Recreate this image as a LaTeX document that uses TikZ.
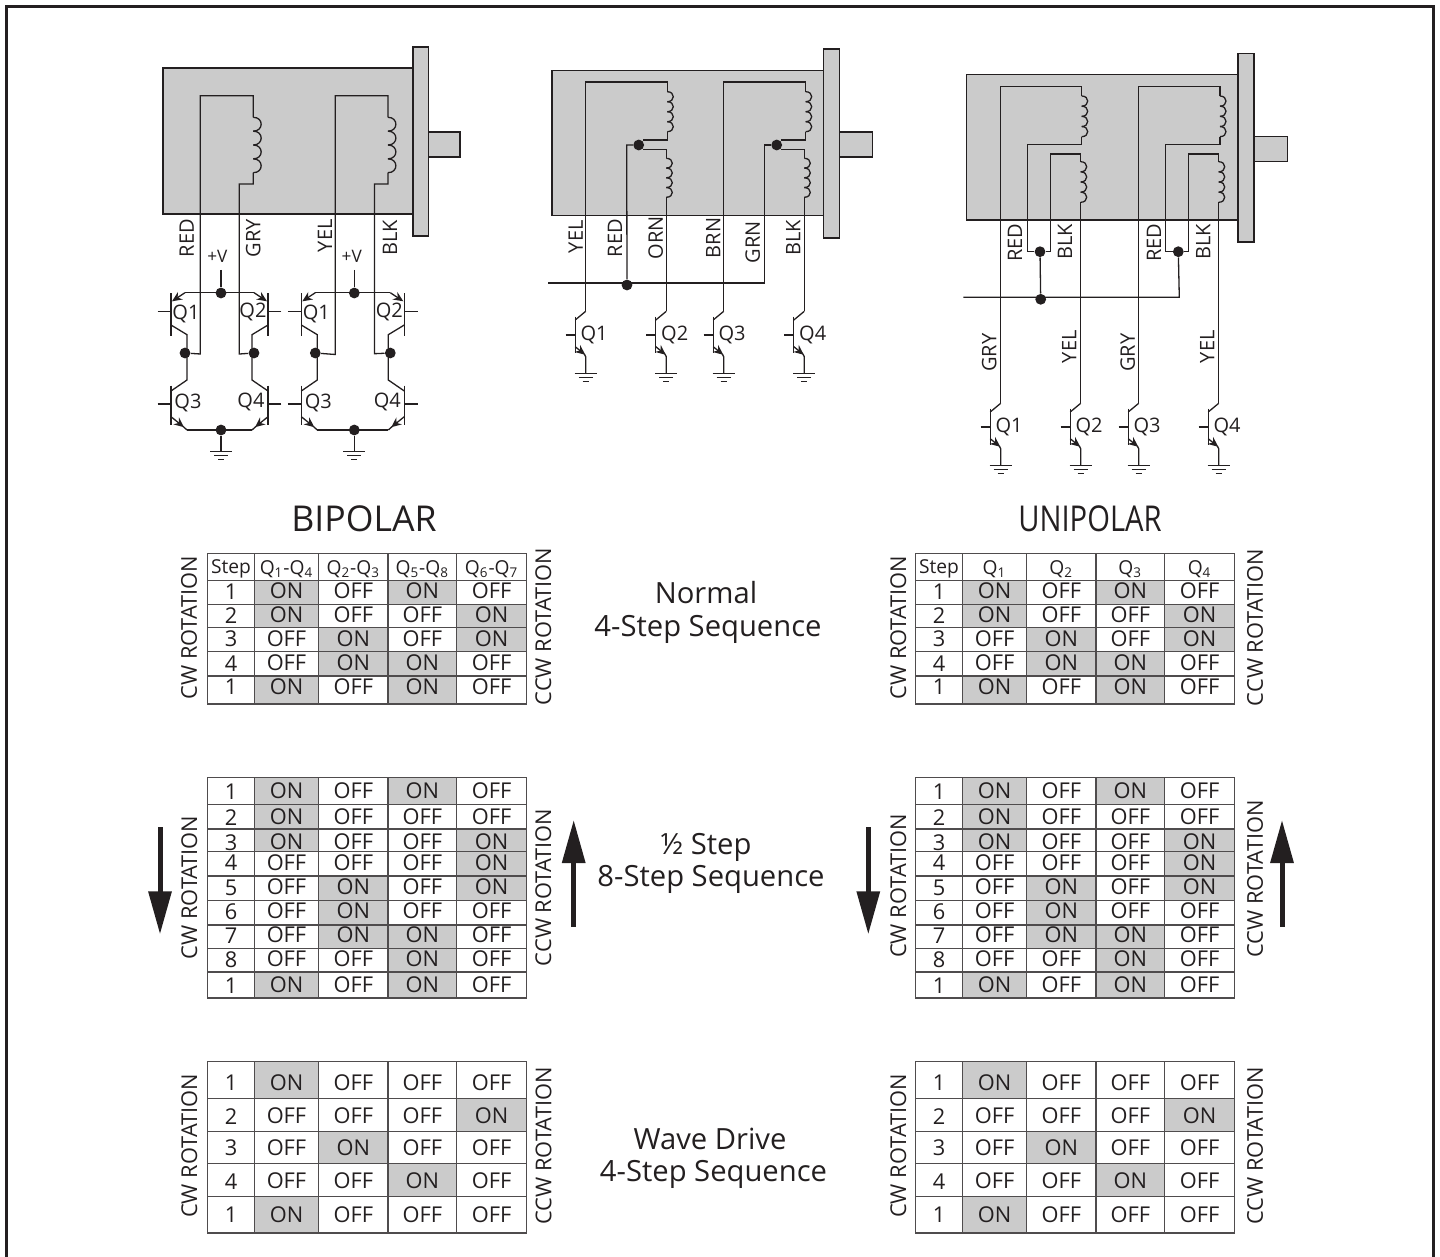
\documentclass[tikz,border=0pt]{standalone}
\usepackage{fontspec}
\setmainfont{Open Sans}
\usetikzlibrary{arrows.meta}
\definecolor{ink}{HTML}{231F20}
\definecolor{motorgray}{HTML}{CBCBCB}
\tikzset{
	wire/.style={draw=ink,line width=0.65pt},
	part/.style={draw=ink,fill=motorgray,line width=0.75pt},
	joint/.style={circle,fill=ink,inner sep=0pt,minimum size=5.4pt},
	tip/.style={-{Stealth[length=5pt,width=4.4pt]}},
	bigarrow/.style={draw=ink,line width=2.5pt,-{Triangle[length=21.5pt,width=11.2pt]}},
	lbl/.style={font=\fontsize{10}{12}\selectfont,text=ink,inner sep=0pt},
	vlbl/.style={lbl,rotate=90},
	plus/.style={font=\fontsize{8.6}{10}\selectfont,text=ink,inner sep=0pt},
	cell/.style={font=\fontsize{10.9}{13}\selectfont,text=ink,inner sep=0pt},
	head/.style={font=\fontsize{9.6}{11}\selectfont,text=ink,inner sep=0pt},
	rot/.style={font=\fontsize{10.9}{13}\selectfont,text=ink,inner sep=0pt,rotate=90},
	seq/.style={font=\fontsize{14.6}{17}\selectfont,text=ink,inner sep=0pt},
	title/.style={font=\fontsize{17.8}{20}\selectfont,text=ink,inner sep=0pt},
	gridline/.style={draw=ink!80,line width=0.6pt}
}
% winding: x, y from, y to, bulge
\newcommand{\coil}[4]{
	\pgfmathsetmacro\coilh{(#3-#2)/4}
	\foreach \k in {0,1,2,3} {
		\draw[wire] (#1,{#2+\k*\coilh}) .. controls ({#1+#4},{#2+\k*\coilh}) and ({#1+#4},{#2+(\k+1)*\coilh}) .. (#1,{#2+(\k+1)*\coilh});
	}
}
% ground symbol
\newcommand{\gnd}[2]{
	\draw[wire] ({#1-11},#2) -- ({#1+11},#2);
	\draw[wire] ({#1-7},{#2+4}) -- ({#1+7},{#2+4});
	\draw[wire] ({#1-3},{#2+8}) -- ({#1+3},{#2+8});
}
% one side of the H bridge, bar of Q1 or Q2 at x=0
\newcommand{\bridgeside}{
	\draw[wire,tip] (14,292.7) -- (1,301.3);
	\draw[wire] (0,293.3) -- (0,336);
	\draw[wire] (-13.4,311.7) -- (0,311.7);
	\draw[wire] (0,325) -- (16,334.7) -- (16,380) -- (0,391);
	\draw[wire] (0,385.7) -- (0,425);
	\draw[wire] (-13.4,404) -- (0,404);
	\draw[wire,tip] (0,416.7) -- (13,427.2);
	\draw[wire] (12,426.4) -- (16,430);
}
% H bridge: left bar, right bar, name
\newcommand{\hbridge}[3]{
	\begin{scope}[shift={(#1,0)}] \bridgeside \end{scope}
	\begin{scope}[shift={(#2,0)},xscale=-1] \bridgeside \end{scope}
	\draw[wire] ({#1+14},292.7) -- ({#2-14},292.7);
	\draw[wire] ({#1+16},430) -- ({#2-16},430);
	\node[joint] (#3top) at ({(#1+#2)/2+1.5},293) {};
	\node[joint] (#3bot) at ({(#1+#2)/2+1.5},430) {};
	\node[joint] (#3left) at ({#1+14},353) {};
	\node[joint] (#3right) at ({#2-14},353) {};
	\coordinate (#3vcc) at ({(#1+#2)/2+1.5},270);
	\coordinate (#3earth) at ({(#1+#2)/2+1.5},451.7);
	\draw[wire] (#3vcc) -- (#3top);
	\draw[wire] (#3bot) -- (#3earth);
	\gnd{(#1+#2)/2+1.5}{451.7}
	\node[lbl] (#3qa) at ({#1+15},314) {Q1};
	\node[lbl] (#3qb) at ({#2-15},312) {Q2};
	\node[lbl] (#3qc) at ({#1+17},403) {Q3};
	\node[lbl] (#3qd) at ({#2-17},402) {Q4};
}
% low side transistor under a wire: x, y, number, name
\newcommand{\qlow}[4]{
	\draw[wire] (#1,#2) -- ({#1-10.5},{#2+8.7});
	\draw[wire] ({#1-10.5},{#2+5.4}) -- ({#1-10.5},{#2+42});
	\draw[wire] ({#1-20},{#2+23.7}) -- ({#1-10.5},{#2+23.7});
	\draw[wire,tip] ({#1-10.5},{#2+35.4}) -- ({#1-0.5},{#2+43.5});
	\draw[wire] ({#1-1.5},{#2+42.6}) -- (#1,{#2+45.4}) -- (#1,{#2+62});
	\gnd{#1}{#2+62}
	\node[lbl,anchor=west] (#4) at ({#1-5.5},{#2+23.2}) {#3};
}
% header row of a table: shift, name, four titles
\newcommand{\headrow}[6]{
	\begin{scope}[shift={(#1,0)}]
		\draw[gridline] (207.5,553.3) rectangle (526.5,580.7);
		\foreach \x in {254.3,318.7,388,456.7}
			\draw[gridline] (\x,553.3) -- (\x,580.7);
		\node[head] (#2step) at (231,569) {Step};
		\node[head] (#2qa) at (286.5,569) {#3};
		\node[head] (#2qb) at (353.3,569) {#4};
		\node[head] (#2qc) at (422.3,569) {#5};
		\node[head] (#2qd) at (491.6,569) {#6};
	\end{scope}
}
% table rows: shift, name, list of rows
\newcommand{\steptable}[3]{
	\begin{scope}[shift={(#1,0)}]
		\foreach \ya/\yb/\yt/\num/\qa/\qb/\qc/\qd [count=\rr] in #3 {
			\foreach \xa/\xb/\st [count=\cc] in {254.3/318.7/\qa,318.7/388/\qb,388/456.7/\qc,456.7/526.5/\qd} {
				\ifnum\st=1 \fill[motorgray] (\xa,\ya) rectangle (\xb,\yb); \fi
			}
			\draw[gridline] (207.5,\ya) rectangle (526.5,\yb);
			\foreach \x in {254.3,318.7,388,456.7}
				\draw[gridline] (\x,\ya) -- (\x,\yb);
			\node[cell] (#2-\rr-0) at (231,{\yt+0.7}) {\num};
			\foreach \xm/\st [count=\cc] in {286.5/\qa,353.3/\qb,422.3/\qc,491.6/\qd} {
				\node[cell] (#2-\rr-\cc) at (\xm,\yt) {\ifnum\st=1 ON\else OFF\fi};
			}
		}
	\end{scope}
}
\def\rowsnormal{580.7/604.3/591/1/1/0/1/0,604.3/627.3/614.5/2/1/0/0/1,627.3/651.7/638.5/3/0/1/0/1,651.7/676/662.5/4/0/1/1/0,676/704/686.5/1/1/0/1/0}
\def\rowshalf{777.3/804.3/790.7/1/1/0/1/0,804.3/829/816.7/2/1/0/0/0,829/851.3/841.7/3/1/0/0/1,851.3/876/862.3/4/0/0/0/1,876/900.3/886.7/5/0/1/0/1,900.3/925/910.7/6/0/1/0/0,925/948.3/935/7/0/1/1/0,948.3/972/959/8/0/0/1/0,972/998/985/1/1/0/1/0}
\def\rowswave{1061.4/1098.2/1082.5/1/1/0/0/0,1098.2/1131.4/1115.5/2/0/0/0/1,1131.4/1163.6/1147.5/3/0/1/0/0,1163.6/1196.4/1180.5/4/0/0/1/0,1196.4/1232.9/1214.5/1/1/0/0/0}
\begin{document}
\begin{tikzpicture}[x=0.5pt,y=-0.5pt]
	\useasboundingbox (0,0) rectangle (1440,1257);
	% Frame, open at the bottom
	\draw[ink,line width=1.25pt] (6.5,1257) -- (6.5,6.5) -- (1433.5,6.5) -- (1433.5,1257);

	% Left motor
	\filldraw[part] (163,68) rectangle (413,214);
	\filldraw[part] (413,47) rectangle (428.7,236);
	\filldraw[part] (428.7,132) rectangle (460,157);
	\hbridge{171}{268}{ba}
	\hbridge{301.3}{404.3}{bb}
	\draw[wire] (baleft) -- (200.3,354) -- (200.3,95.7) -- (253.3,95.7) -- (253.3,117.3);
	\coil{253.3}{117.3}{172.7}{10.5}
	\draw[wire] (253.3,172.7) -- (253.3,184) -- (239.3,184) -- (239.3,354) -- (baright);
	\draw[wire] (bbleft) -- (335.3,354.5) -- (335.3,95.7) -- (388,95.7) -- (388,117.3);
	\coil{388}{117.3}{172.7}{10.5}
	\draw[wire] (388,172.7) -- (388,184) -- (374.5,184) -- (374.5,353.7) -- (bbright);
	\foreach \x/\y/\t [count=\n] in {186.7/238/RED,253.3/238/GRY,325/235.7/YEL,390/237.7/BLK}
		\node[vlbl] (bwire\n) at (\x,\y) {\t};
	\node[plus] (bplusa) at (217.3,256.7) {+V};
	\node[plus] (bplusb) at (351.7,256.7) {+V};

	% Middle motor
	\filldraw[part] (552,70.7) rectangle (823.3,215.7);
	\filldraw[part] (823.3,49) rectangle (839.3,238);
	\filldraw[part] (839.3,132) rectangle (872.7,157);
	\node[joint] (mda) at (638.7,145) {};
	\node[joint] (mdb) at (776.7,145) {};
	\node[joint] (mbus) at (627,285) {};
	\qlow{585.7}{311.3}{Q1}{mqa}
	\qlow{666.3}{311.3}{Q2}{mqb}
	\qlow{723.7}{311.3}{Q3}{mqc}
	\qlow{804.3}{311.3}{Q4}{mqd}
	\draw[wire] (585.7,311.3) -- (585.7,82) -- (667.3,82) -- (667.3,91.7);
	\coil{667.3}{91.7}{131.7}{8}
	\draw[wire] (667.3,131.7) -- (667.3,140) -- (643,140);
	\draw[wire] (mda) -- (626.7,145) -- (mbus);
	\draw[wire] (643,149.3) -- (666.3,149.3) -- (666.3,158.3);
	\coil{666.3}{158.3}{197.3}{8}
	\draw[wire] (666.3,197.3) -- (666.3,311.3);
	\draw[wire] (723.7,311.3) -- (723.7,82) -- (805.7,82) -- (805.7,91.7);
	\coil{805.7}{91.7}{131.7}{8}
	\draw[wire] (805.7,131.7) -- (805.7,140) -- (781,140);
	\draw[wire] (mdb) -- (764.7,145) -- (764.7,283) -- (548,283);
	\draw[wire] (781,149.3) -- (804.3,149.3) -- (804.3,158.3);
	\coil{804.3}{158.3}{197.3}{8}
	\draw[wire] (804.3,197.3) -- (804.3,311.3);
	\foreach \x/\y/\t [count=\n] in {575.7/236.7/YEL,615/238/RED,655.7/238/ORN,713.3/238/BRN,752.7/242/GRN,793.3/238/BLK}
		\node[vlbl] (mwire\n) at (\x,\y) {\t};

	% Right motor
	\filldraw[part] (966.7,74.7) rectangle (1238,220);
	\filldraw[part] (1238,53.3) rectangle (1254,242);
	\filldraw[part] (1254,136.7) rectangle (1287.3,161.7);
	\node[joint] (uda) at (1040,251.7) {};
	\node[joint] (udb) at (1178.3,251.7) {};
	\node[joint] (ubus) at (1040.7,299.3) {};
	\qlow{1000.7}{403.3}{Q1}{uqa}
	\qlow{1080.7}{403.3}{Q2}{uqb}
	\qlow{1138.7}{403.3}{Q3}{uqc}
	\qlow{1218.7}{403.3}{Q4}{uqd}
	\draw[wire] (1000.7,403.3) -- (1000.7,86.7) -- (1081.7,86.7) -- (1081.7,96);
	\coil{1081.7}{96}{136.7}{8}
	\draw[wire] (1081.7,136.7) -- (1081.7,144.3) -- (1027.3,144.3) -- (1027.3,251.7) -- (uda);
	\draw[wire] (uda) -- (1050.3,251.7) -- (1050.3,154) -- (1080.7,154) -- (1080.7,161.7);
	\coil{1080.7}{161.7}{202.3}{8}
	\draw[wire] (1080.7,202.3) -- (1080.7,403.3);
	\draw[wire] (1138.7,403.3) -- (1138.7,86.7) -- (1220,86.7) -- (1220,96);
	\coil{1220}{96}{136.7}{8}
	\draw[wire] (1220,136.7) -- (1220,144.3) -- (1165.3,144.3) -- (1165.3,251.7) -- (udb);
	\draw[wire] (udb) -- (1188.7,251.7) -- (1188.7,154) -- (1218.7,154) -- (1218.7,161.7);
	\coil{1218.7}{161.7}{202.3}{8}
	\draw[wire] (1218.7,202.3) -- (1218.7,403.3);
	\draw[wire] (uda) -- (ubus);
	\draw[wire] (963.3,297.3) -- (1179.3,297.3) -- (udb);
	\foreach \x/\y/\t [count=\n] in {1015/242.7/RED,1065/241.7/BLK,1154/242.7/RED,1203.3/241.7/BLK,989.3/352.7/GRY,1069.3/346.7/YEL,1127.7/352.7/GRY,1207.3/346.7/YEL}
		\node[vlbl] (uwire\n) at (\x,\y) {\t};

	% Titles
	\node[title] (tbipolar) at (364,519) {BIPOLAR};
	\node[title,xscale=0.82] (tunipolar) at (1090,519) {UNIPOLAR};
	\node[seq] (tnormal) at (706,592.7) {Normal};
	\node[seq] (tnormalb) at (708,629) {4-Step Sequence};
	\node[seq] (thalf) at (706,847.5) {½ Step};
	\node[seq] (thalfb) at (711,879) {8-Step Sequence};
	\node[seq] (twave) at (710,1139) {Wave Drive};
	\node[seq] (twaveb) at (713.5,1174.5) {4-Step Sequence};

	% Tables
	\headrow{0}{hl}{Q\textsubscript{1}-Q\textsubscript{4}}{Q\textsubscript{2}-Q\textsubscript{3}}{Q\textsubscript{5}-Q\textsubscript{8}}{Q\textsubscript{6}-Q\textsubscript{7}}
	\headrow{708}{hr}{Q\textsubscript{1}}{Q\textsubscript{2}}{Q\textsubscript{3}}{Q\textsubscript{4}}
	\steptable{0}{na}{\rowsnormal}
	\steptable{708}{nb}{\rowsnormal}
	\steptable{0}{ha}{\rowshalf}
	\steptable{708}{hb}{\rowshalf}
	\steptable{0}{wa}{\rowswave}
	\steptable{708}{wb}{\rowswave}

	% Rotation labels
	\foreach \x/\y/\t [count=\n] in {189/627.7/CW ROTATION,543.4/626.7/CCW ROTATION,898.3/627.7/CW ROTATION,1255/627.5/CCW ROTATION,189.3/887.5/CW ROTATION,543.4/887.5/CCW ROTATION,898.3/886/CW ROTATION,1255/879/CCW ROTATION,189.3/1146/CW ROTATION,543.6/1146/CCW ROTATION,898.3/1146/CW ROTATION,1255/1146/CCW ROTATION}
		\node[rot] (rot\n) at (\x,\y) {\t};

	% Direction arrows
	\draw[bigarrow] (160,827.3) -- (160,934.3);
	\draw[bigarrow] (573.7,926.7) -- (573.7,820);
	\draw[bigarrow] (868.3,827.3) -- (868.3,934.3);
	\draw[bigarrow] (1282,926.7) -- (1282,820);
\end{tikzpicture}
\end{document}
